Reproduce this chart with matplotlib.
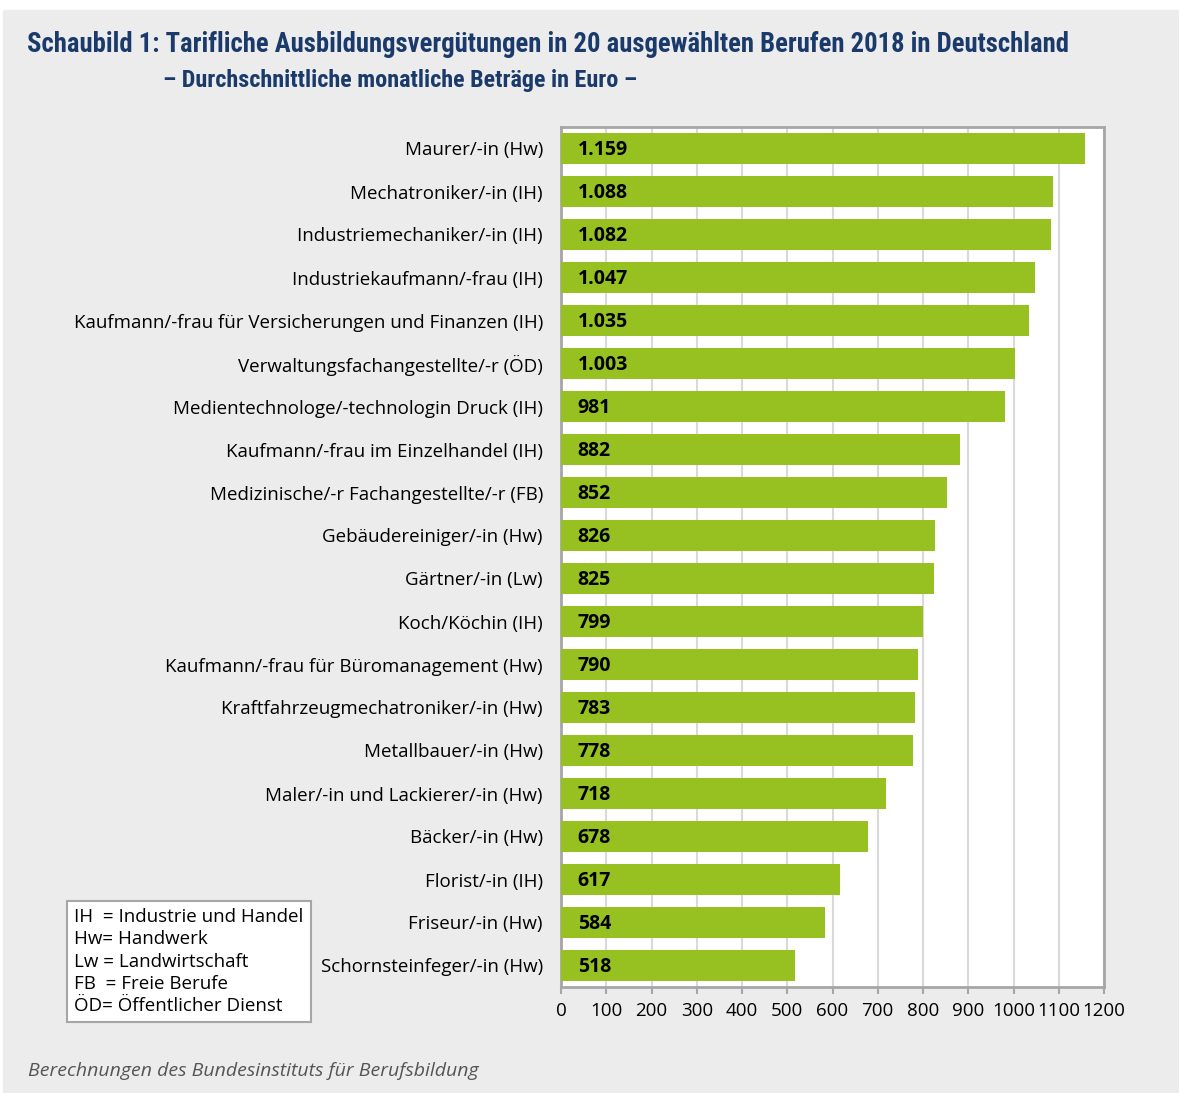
import matplotlib.pyplot as plt
from matplotlib.patches import Rectangle
from matplotlib import font_manager

berufe = ["Maurer/-in (Hw)", "Mechatroniker/-in (IH)", "Industriemechaniker/-in (IH)",
          "Industriekaufmann/-frau (IH)", "Kaufmann/-frau für Versicherungen und Finanzen (IH)",
          "Verwaltungsfachangestellte/-r (ÖD)", "Medientechnologe/-technologin Druck (IH)",
          "Kaufmann/-frau im Einzelhandel (IH)", "Medizinische/-r Fachangestellte/-r (FB)",
          "Gebäudereiniger/-in (Hw)", "Gärtner/-in (Lw)", "Koch/Köchin (IH)",
          "Kaufmann/-frau für Büromanagement (Hw)", "Kraftfahrzeugmechatroniker/-in (Hw)",
          "Metallbauer/-in (Hw)", "Maler/-in und Lackierer/-in (Hw)", "Bäcker/-in (Hw)",
          "Florist/-in (IH)", "Friseur/-in (Hw)", "Schornsteinfeger/-in (Hw)"]
betraege = [1159, 1088, 1082, 1047, 1035, 1003, 981, 882, 852, 826,
            825, 799, 790, 783, 778, 718, 678, 617, 584, 518]
x_ticks = list(range(0, 1300, 100))
legende = ["IH  = Industrie und Handel", "Hw= Handwerk", "Lw = Landwirtschaft",
           "FB  = Freie Berufe", "ÖD= Öffentlicher Dienst"]

names = {f.name for f in font_manager.fontManager.ttflist}
cond = "Open Sans"
for cand in ["Roboto Condensed", "Open Sans Condensed", "Noto Sans Condensed",
             "Liberation Sans Narrow", "DejaVu Sans Condensed"]:
    if cand in names:
        cond = cand
        break
plt.rcParams['font.family'] = ["Open Sans", "DejaVu Sans"]

green = "#96c121"
blue = "#1a3a6b"

fig = plt.figure(figsize=(11.79, 10.93), dpi=100)
fig.patches.append(Rectangle((3 / 1179, 0), 1, 1 - 10 / 1093, transform=fig.transFigure,
                             color="#ececec", zorder=-10))

ax = fig.add_axes([561 / 1179, 1 - 987 / 1093, 543 / 1179, 860 / 1093])
ax.set_facecolor("white")
y = list(range(len(berufe)))
ax.barh(y, betraege, height=0.7, color=green, zorder=3)
for i, v in enumerate(betraege):
    txt = f"{v:,}".replace(",", ".")
    ax.annotate(txt, xy=(0, i), xytext=(12, -1), textcoords="offset points",
                ha="left", va="center", fontsize=14, fontweight="bold", color="black", zorder=4)

ax.set_xlim(0, 1200)
ax.set_ylim(len(berufe) - 0.5, -0.5)
ax.set_xticks(x_ticks)
ax.set_xticklabels([str(t) for t in x_ticks], fontsize=13.5)
ax.set_yticks(y)
ax.set_yticklabels(berufe, fontsize=13.5)
ax.tick_params(axis="y", length=0, pad=13)
ax.tick_params(axis="x", length=5, color="#a6a6a6", width=1.5, pad=6)
ax.grid(axis="x", color="#d9d9d9", linewidth=1.5, zorder=0)
for s in ax.spines.values():
    s.set_color("#a6a6a6")
    s.set_linewidth(2)

t1 = fig.text(27 / 1179, 1 - 45 / 1093,
              "Schaubild 1: Tarifliche Ausbildungsvergütungen in 20 ausgewählten Berufen 2018 in Deutschland",
              family=cond, fontsize=19, fontweight="bold", color=blue, va="center", ha="left")
t2 = fig.text(163 / 1179, 1 - 81 / 1093, "– Durchschnittliche monatliche Beträge in Euro –",
              family=cond, fontsize=16, fontweight="bold", color=blue, va="center", ha="left")

# fit the title lines to the width they have in the original
renderer = fig.canvas.get_renderer()
for t, target in [(t1, 1040), (t2, 473)]:
    w = t.get_window_extent(renderer).width
    t.set_fontsize(t.get_fontsize() * target / w)

fig.patches.append(Rectangle((67 / 1179, 1 - 1022 / 1093), 244 / 1179, 121 / 1093,
                             transform=fig.transFigure, facecolor="white",
                             edgecolor="#a6a6a6", linewidth=1.5))
for k, line in enumerate(legende):
    fig.text(74 / 1179, 1 - (917 + k * 22.3) / 1093, line, fontsize=13.5,
             va="center", ha="left", color="black")

fig.text(28 / 1179, 1 - 1071 / 1093, "Berechnungen des Bundesinstituts für Berufsbildung",
         fontsize=14, style="italic", color="#555555", va="center", ha="left")

fig.savefig("out.png", dpi=100, facecolor="white")
plt.close(fig)
